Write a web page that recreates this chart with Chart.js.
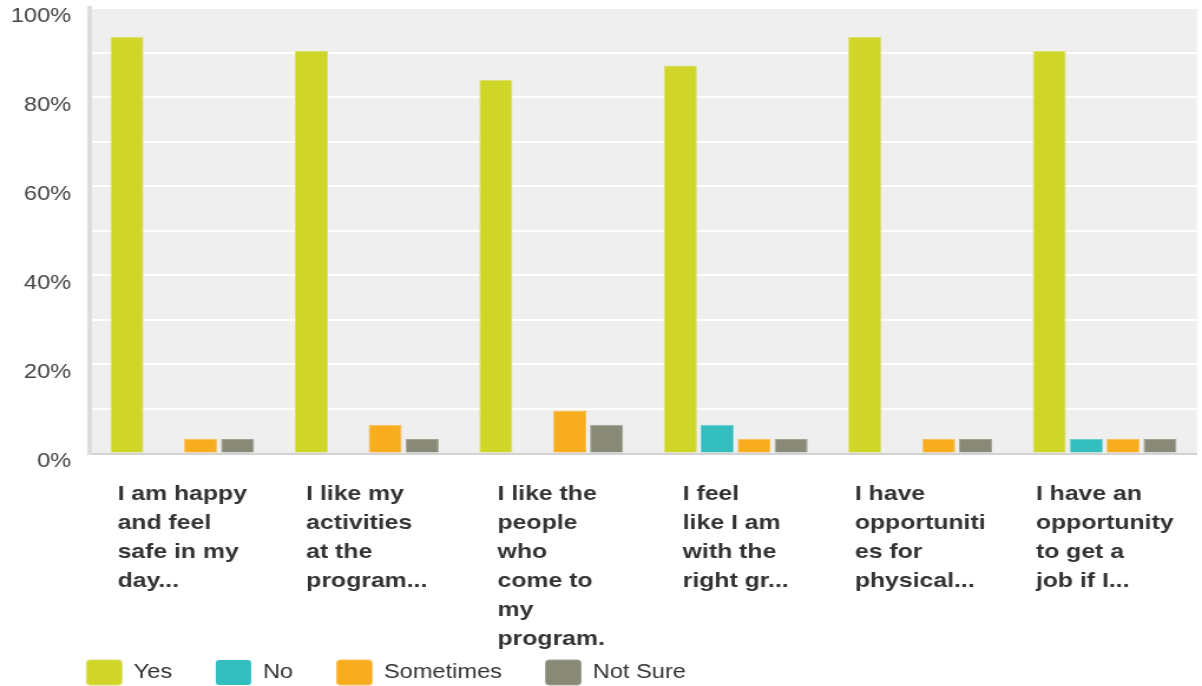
<!DOCTYPE html>
<html>
<head>
<meta charset="utf-8">
<title>Program survey responses</title>
<script src="https://cdn.jsdelivr.net/npm/chart.js@4/dist/chart.umd.min.js"></script>
<style>
  html, body { margin: 0; padding: 0; background: #ffffff; overflow: hidden; }
  #frame {
    width: 1019px;
    height: 686px;
    transform: scaleX(1.17959);
    transform-origin: 0 0;
  }
  canvas { display: block; }
</style>
</head>
<body>
<div id="frame"><canvas id="chart" width="1019" height="686"></canvas></div>
<script>
// Question labels, already wrapped into the lines shown under each group
const categoryLines = [
  ['I am happy', 'and feel', 'safe in my', 'day...'],
  ['I like my', 'activities', 'at the', 'program...'],
  ['I like the', 'people', 'who', 'come to', 'my', 'program.'],
  ['I feel', 'like I am', 'with the', 'right gr...'],
  ['I have', 'opportuniti', 'es for', 'physical...'],
  ['I have an', 'opportunity', 'to get a', 'job if I...']
];

const seriesNames = ['Yes', 'No', 'Sometimes', 'Not Sure'];

// Share of answers, in percent
const yesValues       = [93.55, 90.32, 83.87, 87.10, 93.55, 90.32];
const noValues        = [0, 0, 0, 6.45, 0, 3.23];
const sometimesValues = [3.23, 6.45, 9.68, 3.23, 3.23, 3.23];
const notSureValues   = [3.23, 3.23, 6.45, 3.23, 3.23, 3.23];

// Value axis: a light line every 10%, a label every 20%
const yMax = 100;
const yGridStep = 10;
const yLabelStep = 20;

const FONT = "'Liberation Sans', Arial, Helvetica, sans-serif";

const fills   = ['#cfd628', '#33bdbf', '#f7ad1e', '#898978'];
const strokes = ['#dadf68', '#6dcfd0', '#f8c25e', '#a3a394'];
const valueSets = [yesValues, noValues, sometimesValues, notSureValues];

// Light grey panel behind the bars
const plotPanel = {
  id: 'plotPanel',
  beforeDraw(chart) {
    const { ctx, chartArea: a } = chart;
    ctx.save();
    ctx.fillStyle = '#efefef';
    ctx.fillRect(a.left, a.top, a.right - a.left, a.bottom - a.top);
    ctx.restore();
  }
};

// Legend sits under the plot, lined up with its left edge
const legendPlacement = {
  id: 'legendPlacement',
  afterLayout(chart) {
    const lg = chart.legend;
    if (!lg) return;
    const pad = lg.options.labels.padding;
    const boxH = lg.options.labels.boxHeight;
    const dx = (chart.chartArea.left - 3) - (lg.left + pad);
    const dy = (chart.height - boxH - 1) - (lg.top + pad);
    lg.left += dx; lg.right += dx;
    lg.top += dy; lg.bottom += dy;
  }
};

// Category labels: each block centred on its group, lines left-aligned
const categoryLabels = {
  id: 'categoryLabels',
  afterDraw(chart) {
    const { ctx } = chart;
    const xs = chart.scales.x;
    ctx.save();
    ctx.font = 'bold 21px ' + FONT;
    ctx.fillStyle = '#333333';
    ctx.textAlign = 'left';
    ctx.textBaseline = 'middle';
    const lineH = 29;
    const firstY = xs.top + 41;
    categoryLines.forEach((lines, i) => {
      const cx = xs.getPixelForTick(i);
      const w = Math.max(...lines.map(t => ctx.measureText(t).width));
      const left = cx - w / 2;
      lines.forEach((t, j) => ctx.fillText(t, left, firstY + j * lineH));
    });
    ctx.restore();
  }
};

const chart = new Chart(document.getElementById('chart'), {
  type: 'bar',
  data: {
    labels: categoryLines,
    datasets: seriesNames.map((name, k) => ({
      label: name,
      data: valueSets[k],
      backgroundColor: fills[k],
      borderColor: strokes[k],
      borderWidth: c => (c.raw > 0 ? 1 : 0),
      barPercentage: 0.9,
      categoryPercentage: 0.8
    }))
  },
  options: {
    responsive: false,
    animation: false,
    events: [],
    layout: { padding: { top: 8, right: 4.3, left: 0, bottom: 0 } },
    scales: {
      x: {
        grid: { display: false },
        border: { display: true, color: '#d2d2d2', width: 2 },
        ticks: { display: false },
        afterFit(scale) { scale.height = 160.5; }
      },
      y: {
        min: 0,
        max: yMax,
        grid: { color: '#ffffff', lineWidth: 2, drawTicks: false },
        border: { display: true, color: '#dcdcdc', width: 4 },
        ticks: {
          stepSize: yGridStep,
          padding: 16,
          labelOffset: 8,
          color: '#444444',
          font: { family: FONT, size: 20 },
          callback: v => (v % yLabelStep === 0 ? v + '%' : '')
        },
        afterFit(scale) {
          scale.width = 76.3;
          scale.paddingTop = 0;
          scale.paddingBottom = 0;
        }
      }
    },
    plugins: {
      tooltip: { enabled: false },
      legend: {
        position: 'bottom',
        align: 'start',
        labels: {
          boxWidth: 30,
          boxHeight: 25,
          padding: 37,
          color: '#333333',
          useBorderRadius: true,
          borderRadius: 3,
          font: { family: FONT, size: 20 }
        }
      }
    }
  },
  plugins: [plotPanel, legendPlacement, categoryLabels]
});
</script>
</body>
</html>
